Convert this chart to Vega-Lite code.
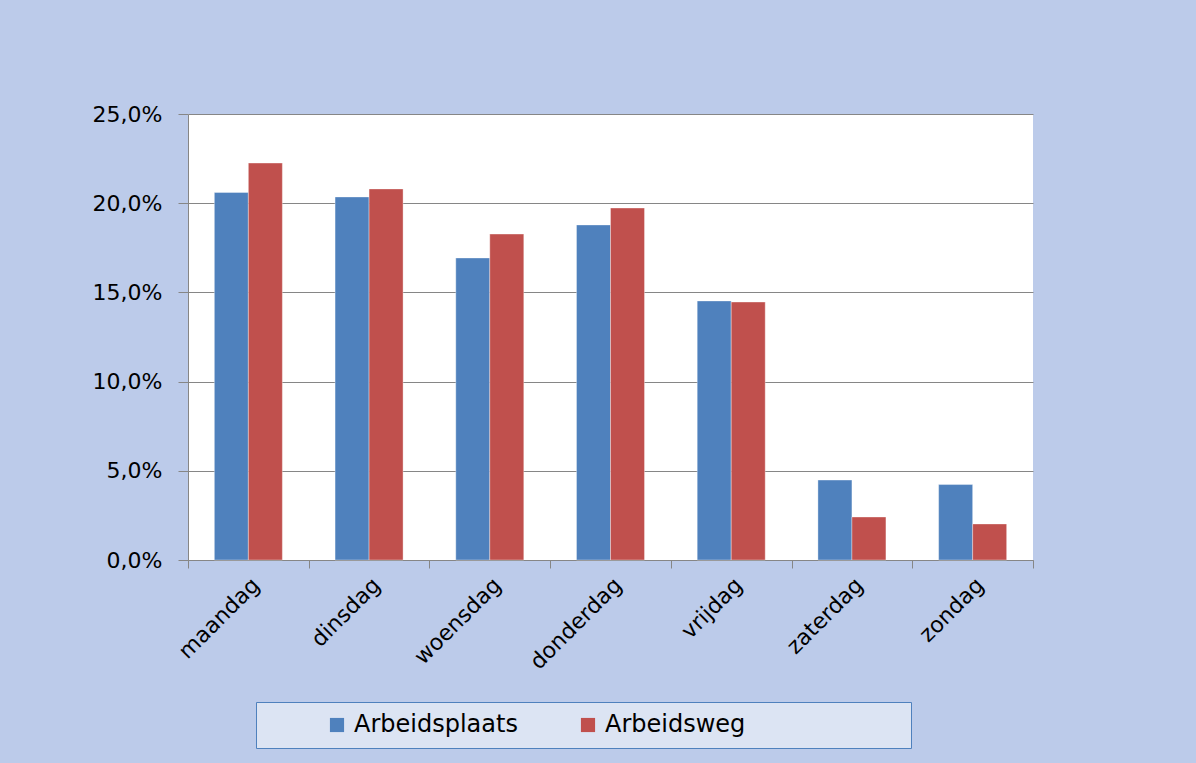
{
  "$schema": "https://vega.github.io/schema/vega-lite/v6.json",
  "width": 845,
  "height": 446,
  "autosize": {"type": "none"},
  "padding": {"left": 188, "top": 114, "right": 163, "bottom": 203},
  "background": "#bccbea",
  "data": {
    "values": [
      {"dag": "maandag", "reeks": "Arbeidsplaats", "waarde": 0.206},
      {"dag": "maandag", "reeks": "Arbeidsweg", "waarde": 0.2225},
      {"dag": "dinsdag", "reeks": "Arbeidsplaats", "waarde": 0.2035},
      {"dag": "dinsdag", "reeks": "Arbeidsweg", "waarde": 0.208},
      {"dag": "woensdag", "reeks": "Arbeidsplaats", "waarde": 0.1693},
      {"dag": "woensdag", "reeks": "Arbeidsweg", "waarde": 0.1827},
      {"dag": "donderdag", "reeks": "Arbeidsplaats", "waarde": 0.1878},
      {"dag": "donderdag", "reeks": "Arbeidsweg", "waarde": 0.1973},
      {"dag": "vrijdag", "reeks": "Arbeidsplaats", "waarde": 0.1452},
      {"dag": "vrijdag", "reeks": "Arbeidsweg", "waarde": 0.1446},
      {"dag": "zaterdag", "reeks": "Arbeidsplaats", "waarde": 0.0448},
      {"dag": "zaterdag", "reeks": "Arbeidsweg", "waarde": 0.0241},
      {"dag": "zondag", "reeks": "Arbeidsplaats", "waarde": 0.0423},
      {"dag": "zondag", "reeks": "Arbeidsweg", "waarde": 0.0202}
    ]
  },
  "mark": {"type": "bar", "stroke": "#ffffff", "strokeOpacity": 0.35, "strokeWidth": 1},
  "encoding": {
    "x": {
      "field": "dag",
      "type": "nominal",
      "sort": null,
      "scale": {"paddingInner": 0, "paddingOuter": 0},
      "axis": {
        "title": null,
        "labelAngle": -45,
        "labelFontSize": 22,
        "labelPadding": 6,
        "tickBand": "extent",
        "tickSize": 8,
        "tickColor": "#868686",
        "domainColor": "#868686",
        "labelColor": "#000000"
      }
    },
    "xOffset": {
      "field": "reeks",
      "type": "nominal",
      "scale": {"paddingInner": 0, "paddingOuter": 0.775}
    },
    "y": {
      "field": "waarde",
      "type": "quantitative",
      "scale": {"domain": [0, 0.25]},
      "axis": {
        "title": null,
        "format": ".1%",
        "values": [0, 0.05, 0.1, 0.15, 0.2, 0.25],
        "labelFontSize": 22,
        "labelPadding": 16,
        "tickSize": 10,
        "tickColor": "#868686",
        "domainColor": "#868686",
        "gridColor": "#868686",
        "labelColor": "#000000"
      }
    },
    "color": {
      "field": "reeks",
      "type": "nominal",
      "scale": {"domain": ["Arbeidsplaats", "Arbeidsweg"], "range": ["#4f81bd", "#c0504d"]},
      "legend": {
        "title": " ",
        "titleOrient": "right",
        "titlePadding": 155,
        "orient": "none",
        "legendX": 68,
        "legendY": 588,
        "direction": "horizontal",
        "symbolType": "square",
        "symbolSize": 200,
        "symbolStrokeWidth": 0,
        "labelFontSize": 24,
        "labelLimit": 400,
        "labelColor": "#000000",
        "labelOffset": 5,
        "columnPadding": 0,
        "padding": 11,
        "symbolOffset": 58,
        "strokeColor": "#4f81bd",
        "fillColor": "#dce4f3"
      }
    }
  },
  "config": {
    "font": "DejaVu Sans",
    "view": {"stroke": null, "fill": "#ffffff"},
    "axis": {"gridWidth": 1, "domainWidth": 1, "tickWidth": 1},
    "locale": {
      "number": {"decimal": ",", "thousands": ".", "grouping": [3], "currency": ["€", ""]}
    }
  }
}
